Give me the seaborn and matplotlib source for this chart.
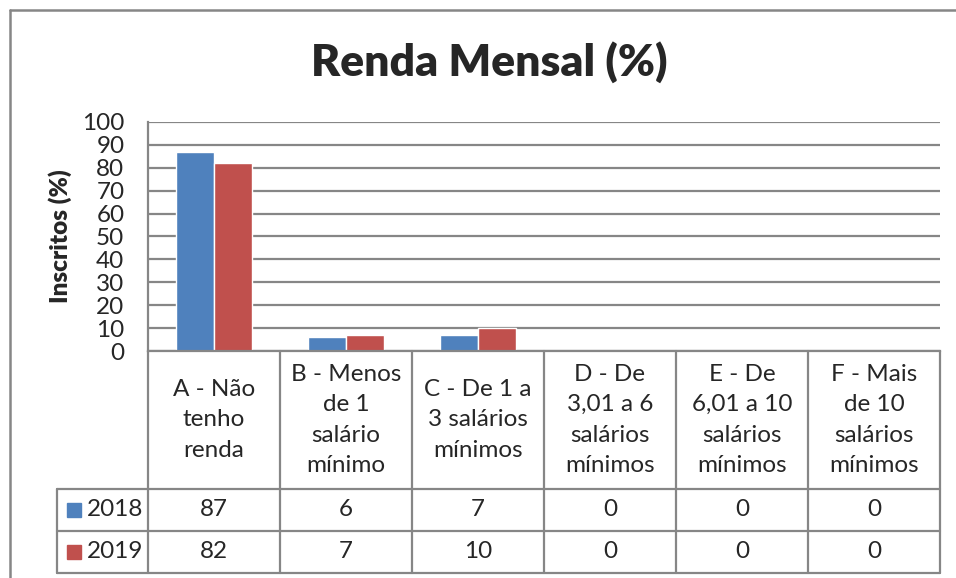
import matplotlib
matplotlib.use("Agg")
import matplotlib.pyplot as plt
from matplotlib.lines import Line2D
from matplotlib.patches import Rectangle
import seaborn as sns
import pandas as pd

categories = ["A - Não\ntenho\nrenda", "B - Menos\nde 1\nsalário\nmínimo",
              "C - De 1 a\n3 salários\nmínimos", "D - De\n3,01 a 6\nsalários\nmínimos",
              "E - De\n6,01 a 10\nsalários\nmínimos", "F - Mais\nde 10\nsalários\nmínimos"]
years = ["2018", "2019"]
v2018 = [87, 6, 7, 0, 0, 0]
v2019 = [82, 7, 10, 0, 0, 0]
yticks = [0, 10, 20, 30, 40, 50, 60, 70, 80, 90, 100]
colors = ["#4F81BD", "#C0504D"]
GRAY = "#868686"

sns.set_theme(style="white")
plt.rcParams["font.family"] = ["Lato", "DejaVu Sans"]

df = pd.DataFrame({
    "cat": categories * 2,
    "year": [years[0]] * len(categories) + [years[1]] * len(categories),
    "val": v2018 + v2019,
})

W, H = 956, 578
fig = plt.figure(figsize=(W / 100, H / 100), dpi=100)
L, R, T, B = 148, 940, 122, 351
ax = fig.add_axes([L / W, 1 - B / H, (R - L) / W, (B - T) / H])

sns.barplot(data=df, x="cat", y="val", hue="year", palette=colors, width=0.58,
            saturation=1, ax=ax, legend=False, order=categories, hue_order=years)

FS = 17.5
ax.set_ylim(0, 100)
ax.set_xlim(-0.5, len(categories) - 0.5)
ax.set_yticks(yticks)
ax.set_yticklabels([str(t) for t in yticks], fontsize=FS)
ax.set_xticks([])
ax.set_xlabel("")
ax.set_ylabel("Inscritos (%)", fontsize=17.5, fontweight="heavy")
ax.yaxis.set_label_coords((72 - L) / (R - L), 0.5)
ax.tick_params(axis="y", length=0, pad=17)
ax.yaxis.grid(True, color=GRAY, linewidth=1.6)
ax.set_axisbelow(True)
for s in ["top", "right"]:
    ax.spines[s].set_visible(False)
for s in ["left", "bottom"]:
    ax.spines[s].set_color(GRAY)
    ax.spines[s].set_linewidth(1.6)

fig.text(489 / W, 1 - 62 / H, "Renda Mensal (%)", ha="center", va="center",
         fontsize=32, fontweight="heavy")

# data table under the axis
trans = ax.get_xaxis_transform()
def ay(py):
    return (B - py) / (B - T)

cat_w = (R - L) / len(categories)
leg_left = -0.5 - (L - 57) / cat_w
y_head = ay(489)
y_r1 = ay(531)
y_r2 = ay(573)
lk = dict(color=GRAY, linewidth=1.6, transform=trans, clip_on=False)
n = len(categories)
for yy in (y_head, y_r1, y_r2):
    ax.plot([leg_left, n - 0.5], [yy, yy], **lk)
for k in range(n + 1):
    ax.plot([k - 0.5, k - 0.5], [0, y_r2], **lk)
ax.plot([leg_left, leg_left], [y_head, y_r2], **lk)

for i, c in enumerate(categories):
    ax.text(i, (0 + y_head) / 2, c, transform=trans, ha="center", va="center",
            fontsize=FS, linespacing=1.55)
for vals, (ytop, ybot) in zip([v2018, v2019], [(y_head, y_r1), (y_r1, y_r2)]):
    for i, v in enumerate(vals):
        ax.text(i, (ytop + ybot) / 2, str(v), transform=trans, ha="center",
                va="center", fontsize=FS)

sq = 14 / cat_w
for yr, col, (ytop, ybot) in zip(years, colors, [(y_head, y_r1), (y_r1, y_r2)]):
    ym = (ytop + ybot) / 2
    x0 = leg_left + 10 / cat_w
    hs = 7 / (B - T)
    ax.add_patch(Rectangle((x0, ym - hs), sq, 2 * hs, transform=trans,
                           color=col, clip_on=False))
    ax.text(x0 + sq + 6 / cat_w, ym, yr, transform=trans, ha="left", va="center",
            fontsize=FS)

# outer chart frame
fig.add_artist(Line2D([9.5 / W, 9.5 / W], [0, 1 - 10 / H], color=GRAY, linewidth=1.8))
fig.add_artist(Line2D([9.5 / W, 1], [1 - 10 / H, 1 - 10 / H], color=GRAY, linewidth=1.8))

fig.savefig("out.png", dpi=100)
